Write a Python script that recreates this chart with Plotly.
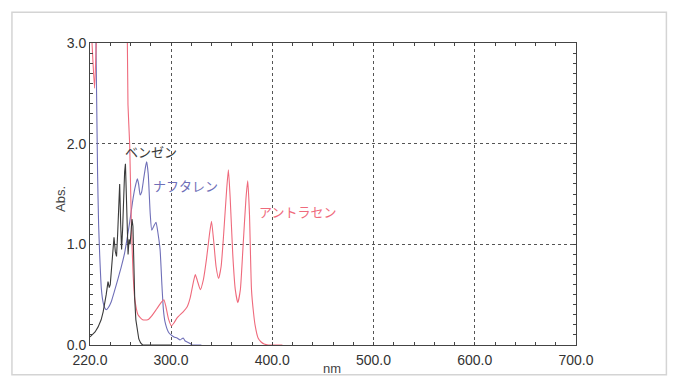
import plotly.graph_objects as go

# Benzene
benz_x = [220, 222, 225, 228, 231, 233, 234.5, 236, 237.8, 239, 240, 241, 242.2, 243.7, 245, 246.2,
          247.3, 248.4, 249.3, 250.3, 251.2, 252.2, 253.3, 254.2, 255, 255.9, 256.8, 257.6, 258.6,
          259.6, 260.5, 261.5, 262.4, 263.2, 264.2, 265.3, 266.7, 268.2, 270, 272, 300]
benz_y = [0.08, 0.10, 0.13, 0.18, 0.25, 0.33, 0.40, 0.50, 0.63, 0.57, 0.60, 0.72, 0.90, 1.07, 0.93, 0.88,
          1.10, 1.38, 1.60, 1.20, 0.95, 1.15, 1.50, 1.72, 1.80, 1.40, 1.00, 0.90, 1.05,
          1.00, 1.12, 1.25, 1.18, 0.80, 0.45, 0.25, 0.13, 0.06, 0.02, 0.0, 0.0]

# Naphthalene
naph_x = [220, 224, 225.5, 226.5, 227.5, 228.5, 229.6, 231.2, 233, 234.5, 236.1, 238, 241, 244, 247.7,
          251, 254.3, 257, 259.2, 262, 264.2, 266.7, 268, 269.5, 271, 273, 275, 276, 277.5, 279.5,
          281, 283, 285.2, 287, 289.2, 291, 292.5, 294.1, 297.4, 300, 303, 306, 309, 312, 314, 316,
          318, 321, 330]
naph_y = [3.5, 3.4, 3.2, 2.5, 1.7, 1.2, 0.89, 0.56, 0.42, 0.37, 0.35, 0.37, 0.43, 0.53, 0.66,
          0.78, 0.92, 1.08, 1.22, 1.42, 1.55, 1.65, 1.60, 1.49, 1.52, 1.65, 1.78, 1.82, 1.70, 1.30,
          1.14, 1.18, 1.22, 1.12, 0.95, 0.60, 0.35, 0.23, 0.13, 0.10, 0.08, 0.07, 0.05, 0.07, 0.04, 0.03,
          0.02, 0.0, 0.0]

# Anthracene
anth_x = [220, 222, 224.5, 226.2, 228, 240, 255, 256.9, 257.5, 259.2, 260.8, 262.5, 264.2, 267.4, 272,
          277, 281, 286, 291, 293, 295, 297.5, 300.5, 303, 306, 312, 316, 319, 322, 324, 326, 329,
          332, 335, 338, 340, 342, 344.5, 347, 349.5, 352, 355, 356.7, 358.5, 361, 363.5, 366,
          368.5, 371, 374, 375.8, 377.5, 379.5, 381.5, 383, 386, 389, 392, 396, 410]
anth_y = [3.4, 3.0, 2.55, 3.0, 3.4, 3.5, 3.5, 3.0, 2.39, 1.99, 1.22, 0.72, 0.46, 0.30, 0.25,
          0.25, 0.29, 0.36, 0.43, 0.45, 0.38, 0.26, 0.19, 0.22, 0.27, 0.33, 0.38, 0.47, 0.62, 0.70, 0.64, 0.55,
          0.65, 0.85, 1.10, 1.23, 1.05, 0.78, 0.66, 0.78, 1.10, 1.55, 1.74, 1.45, 0.90, 0.55, 0.42,
          0.55, 0.95, 1.45, 1.63, 1.30, 0.55, 0.32, 0.20, 0.07, 0.03, 0.01, 0.0, 0.0]

x_ticks = [220, 300, 400, 500, 600, 700]
x_tick_text = ["220.0", "300.0", "400.0", "500.0", "600.0", "700.0"]
y_ticks = [0, 1, 2, 3]
y_tick_text = ["0.0", "1.0", "2.0", "3.0"]

labels = ["ベンゼン", "ナフタレン", "アントラセン"]
label_x = [280, 314, 425]
label_y = [1.92, 1.58, 1.33]

c_benz = "#3a3a3a"
c_naph = "#6f6fb8"
c_anth = "#ef6a7c"

fig = go.Figure()
fig.add_trace(go.Scatter(x=naph_x, y=naph_y, mode="lines", line=dict(color=c_naph, width=1.1, shape="spline", smoothing=0.5)))
fig.add_trace(go.Scatter(x=anth_x, y=anth_y, mode="lines", line=dict(color=c_anth, width=1.1, shape="spline", smoothing=0.5)))
fig.add_trace(go.Scatter(x=benz_x, y=benz_y, mode="lines", line=dict(color=c_benz, width=1.1)))

for t, xx, yy, c in zip(labels, label_x, label_y, [c_benz, c_naph, c_anth]):
    fig.add_annotation(x=xx, y=yy, text=t, showarrow=False, xref="x", yref="y",
                       font=dict(family="Noto Sans CJK JP", size=13, color=c))

fig.add_annotation(x=-0.079, y=0.484, xref="paper", yref="paper", text="Abs.", textangle=-90,
                   showarrow=False, font=dict(family="Liberation Sans", size=13, color="#444"))
fig.add_annotation(x=0.497, y=-0.1086, xref="paper", yref="paper", yanchor="bottom", text="nm",
                   showarrow=False, font=dict(family="Liberation Sans", size=13, color="#444"))

fig.add_shape(type="rect", xref="paper", yref="paper", x0=-0.1606, x1=1.186, y0=-0.0987, y1=1.102,
              line=dict(color="#d4d4d4", width=1.5), layer="below")

axis_common = dict(showline=True, linecolor="#444", linewidth=1, mirror="ticks",
                   ticks="inside", ticklen=3, tickcolor="#444",
                   showgrid=True, gridcolor="#555", griddash="dot", gridwidth=1,
                   zeroline=False, tickfont=dict(family="Liberation Sans", size=14, color="#333"))

fig.update_xaxes(range=[220, 700], tickvals=x_ticks, ticktext=x_tick_text, ticklabelstandoff=2,
                 minor=dict(ticks="inside", dtick=20, tick0=220, ticklen=3, tickcolor="#444", showgrid=False),
                 **axis_common)
fig.update_yaxes(range=[0, 3], tickvals=y_ticks, ticktext=y_tick_text,
                 minor=dict(ticks="inside", dtick=0.1, tick0=0, ticklen=3, tickcolor="#444", showgrid=False),
                 **axis_common)

fig.update_layout(width=675, height=380, margin=dict(l=90, r=99, t=43, b=33),
                  paper_bgcolor="white", plot_bgcolor="white", showlegend=False)

fig.write_html("out.html")
